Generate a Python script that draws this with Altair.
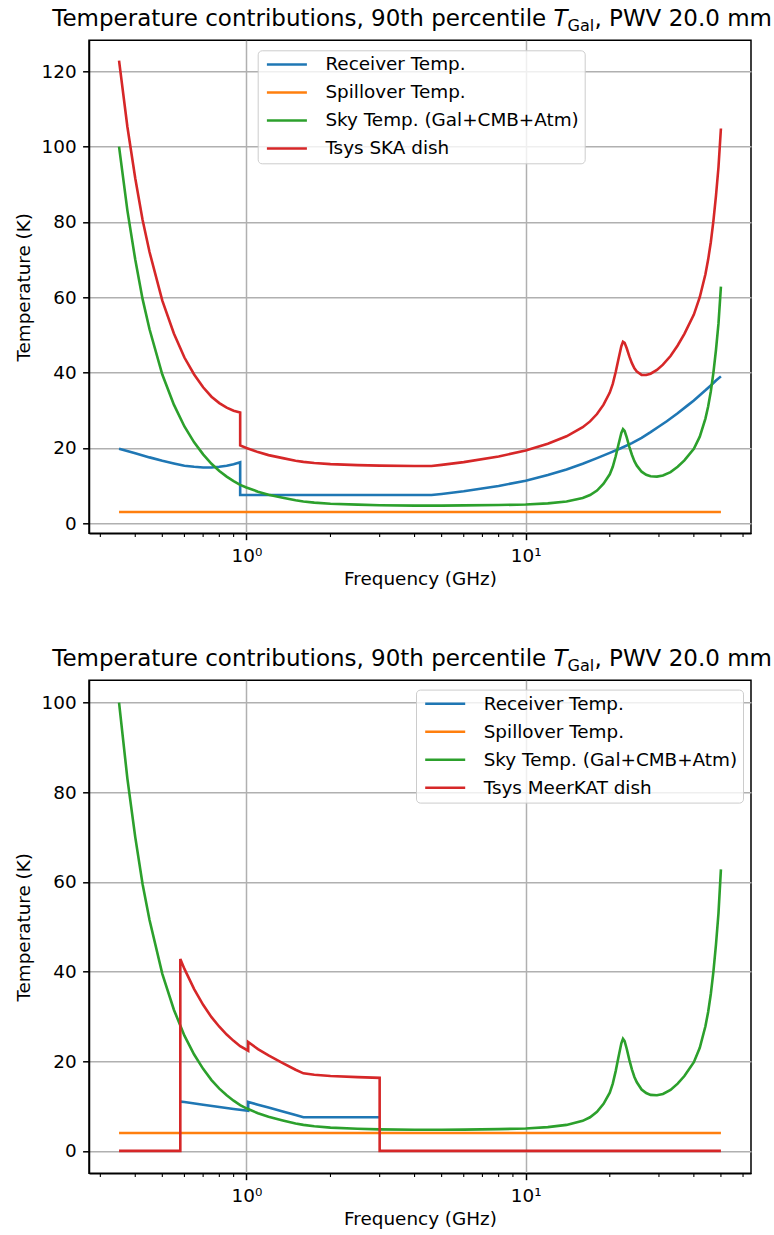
import altair as alt
import pandas as pd

# ---------------- data ----------------
F_SKY = [0.35, 0.375, 0.40, 0.425, 0.45, 0.5, 0.55, 0.6, 0.65, 0.7, 0.75, 0.8, 0.85, 0.9, 0.95,
         1.0, 1.1, 1.2, 1.35, 1.5, 1.6, 1.75, 2.0, 2.5, 3.0, 4.0, 5.0, 6.0, 8.0, 10.0, 12.0, 14.0,
         16.0, 17.0, 18.0, 19.0, 20.0, 20.5, 21.0, 21.5, 22.0, 22.3, 22.6, 23.0, 23.5, 24.0, 24.5,
         25.0, 26.0, 27.0, 28.0, 29.5, 31.0, 33.0, 35.0, 37.0, 40.0, 42.0, 44.0, 45.0, 46.0, 47.0,
         48.0, 49.0, 50.0]
T_SKY = [100.0, 83.0, 70.0, 59.5, 51.5, 39.5, 31.5, 25.7, 21.5, 18.3, 15.8, 13.9, 12.4, 11.2, 10.2,
         9.5, 8.4, 7.6, 6.8, 6.1, 5.8, 5.5, 5.2, 4.95, 4.8, 4.7, 4.7, 4.75, 4.85, 5.0, 5.3, 5.8,
         6.7, 7.5, 8.7, 10.5, 13.0, 15.0, 17.8, 21.0, 24.0, 25.0, 24.5, 22.8, 20.3, 18.2, 16.5,
         15.3, 13.7, 12.9, 12.5, 12.4, 12.7, 13.6, 15.0, 16.7, 19.8, 23.0, 27.8, 31.0, 35.0, 40.0,
         46.0, 53.0, 62.8]

# SKA dish
F_RX_SKA = [0.35, 0.4, 0.45, 0.5, 0.55, 0.6, 0.65, 0.7, 0.75, 0.8, 0.85, 0.9, 0.95, 0.95, 4.6,
            5.0, 6.0, 8.0, 10.0, 12.0, 14.0, 16.0, 18.0, 20.0, 22.0, 24.0, 26.0, 28.0, 30.0, 32.0,
            35.0, 38.0, 40.0, 42.0, 44.0, 46.0, 48.0, 50.0]
T_RX_SKA = [19.8, 18.6, 17.5, 16.6, 15.9, 15.3, 15.0, 14.8, 14.8, 15.0, 15.3, 15.7, 16.2, 7.5, 7.5,
            7.8, 8.5, 9.9, 11.3, 12.8, 14.3, 15.8, 17.3, 18.7, 20.0, 21.3, 22.7, 24.2, 25.7, 27.1,
            29.2, 31.3, 32.6, 34.0, 35.3, 36.6, 37.9, 39.0]
F_SYS_SKA = [0.35, 0.375, 0.40, 0.425, 0.45, 0.5, 0.55, 0.6, 0.65, 0.7, 0.75, 0.8, 0.85, 0.9, 0.95,
             0.95, 1.0, 1.1, 1.2, 1.35, 1.5, 1.6, 1.75, 2.0, 2.5, 3.0, 4.0, 4.6, 5.0, 6.0, 8.0,
             10.0, 12.0, 14.0, 16.0, 17.0, 18.0, 19.0, 20.0, 20.5, 21.0, 21.5, 22.0, 22.3, 22.6,
             23.0, 23.5, 24.0, 24.5, 25.0, 26.0, 27.0, 28.0, 29.5, 31.0, 33.0, 35.0, 37.0, 40.0,
             42.0, 44.0, 45.0, 46.0, 47.0, 48.0, 49.0, 50.0]
T_SYS_SKA = [122.8, 105.2, 91.6, 80.5, 72.0, 59.1, 50.4, 44.0, 39.5, 36.1, 33.6, 31.9, 30.7, 29.9,
             29.4, 20.7, 20.0, 18.9, 18.1, 17.3, 16.6, 16.3, 16.0, 15.7, 15.45, 15.3, 15.2, 15.2,
             15.5, 16.25, 17.75, 19.3, 21.1, 23.1, 25.5, 27.05, 29.0, 31.5, 34.7, 37.0, 40.15,
             43.7, 47.0, 48.2, 47.9, 46.45, 44.3, 42.5, 41.15, 40.3, 39.4, 39.35, 39.7, 40.7, 42.1,
             44.4, 47.2, 50.3, 55.4, 60.0, 66.1, 70.0, 74.6, 80.25, 86.9, 94.5, 104.8]
F_SPILL = [0.35, 50.0]
T_SPILL_SKA = [3.0, 3.0]

# MeerKAT dish
F_RX_MK = [0.58, 0.6, 0.7, 0.8, 0.9, 1.015, 1.015, 1.1, 1.2, 1.35, 1.5, 1.6, 2.0, 2.5, 3.0]
T_RX_MK = [11.0, 10.9, 10.3, 9.8, 9.35, 8.95, 10.9, 10.3, 9.7, 8.8, 8.0, 7.5, 7.5, 7.5, 7.5]
F_SYS_MK = [0.35, 0.58, 0.58, 0.6, 0.65, 0.7, 0.75, 0.8, 0.85, 0.9, 0.95, 1.015, 1.015, 1.1, 1.2,
            1.35, 1.5, 1.6, 1.75, 2.0, 2.5, 3.0, 3.0, 50.0]
T_SYS_MK = [0.0, 0.0, 42.8, 40.6, 36.1, 32.6, 29.85, 27.7, 25.95, 24.55, 23.35, 22.35, 24.3, 22.7,
            21.3, 19.6, 18.1, 17.3, 17.0, 16.7, 16.45, 16.3, 0.0, 0.0]
T_SPILL_MK = [4.0, 4.0]

NAMES_COMMON = ["Receiver Temp.", "Spillover Temp.", "Sky Temp. (Gal+CMB+Atm)"]
COLORS = ["#1f77b4", "#ff7f0e", "#2ca02c", "#d62728"]

X_MAJOR = [1, 10]
X_MINOR = [0.3, 0.4, 0.5, 0.6, 0.7, 0.8, 0.9, 2, 3, 4, 5, 6, 7, 8, 9, 20, 30, 40, 50, 60]
Y_TICKS_TOP = [0, 20, 40, 60, 80, 100, 120]
Y_TICKS_BOT = [0, 20, 40, 60, 80, 100]

TITLE_A = "Temperature contributions, 90th percentile"
TITLE_T = "T"
TITLE_SUB = "Gal"
TITLE_B = ", PWV 20.0 mm"

# ---------------- styling ----------------
W, H = 662, 493
FONT = "DejaVu Sans"
FS = 18.4
TFS = 23.0
LW = 2.6
X_DOMAIN = [0.2732, 64.07]

# title pieces (plot coordinates)
T_X = 464.5            # left edge of the italic T
T_SPACE = 0.318 * TFS  # width of a space
T_W = 0.611 * TFS      # italic T advance
SUB_W = 1.669 * TFS * 0.7
T_BASE = -14


def frame(series):
    rows = []
    for name, fs, ts in series:
        for i, (f, t) in enumerate(zip(fs, ts)):
            rows.append({"f": f, "T": t, "s": name, "i": i})
    return pd.DataFrame(rows)


def panel(series, names, ydom, yticks, lx, ly):
    df = frame(series)
    xs = alt.Scale(type="log", domain=X_DOMAIN, nice=False)
    xax = alt.Axis(values=X_MAJOR, labelExpr="datum.value == 1 ? '10⁰' : '10¹'",
                   title="Frequency (GHz)", tickSize=6.4, labelPadding=6.4,
                   titleY=45, titleBaseline="middle", grid=True)
    x = alt.X("f:Q", scale=xs, axis=xax)
    y = alt.Y("T:Q", scale=alt.Scale(domain=ydom, nice=False, zero=False),
              axis=alt.Axis(values=yticks, title="Temperature (K)", tickSize=6.4,
                            labelPadding=6.4, titleX=-66, titleY=H / 2,
                            titleAngle=-90, titleBaseline="middle", grid=True))
    color = alt.Color("s:N", scale=alt.Scale(domain=names, range=COLORS),
                      legend=alt.Legend(title=None, orient="none", legendX=lx, legendY=ly,
                                        symbolType="M-1,0L7,0", symbolSize=100,
                                        symbolStrokeWidth=LW, labelFontSize=FS,
                                        labelFont=FONT, labelColor="black", rowPadding=9,
                                        padding=5, labelOffset=44.3,
                                        fillColor="rgba(255,255,255,0.8)",
                                        strokeColor="#cccccc", cornerRadius=4,
                                        labelLimit=0))
    layers = []
    for n in names:
        layers.append(
            alt.Chart(df).transform_filter(alt.datum.s == n)
            .mark_line(strokeWidth=LW, clip=True)
            .encode(x=x, y=y, color=color, order="i:Q")
        )
    minor = alt.Chart(pd.DataFrame({"f": X_MINOR})).mark_rule(
        color="black", strokeWidth=1.1).encode(
        x=alt.X("f:Q", scale=xs, axis=xax), y=alt.value(H), y2=alt.value(H + 3.7))
    one = pd.DataFrame({"a": [0]})
    t1 = alt.Chart(one).mark_text(align="right", baseline="alphabetic", font=FONT,
                                  fontSize=TFS, color="black").encode(
        x=alt.value(T_X - T_SPACE), y=alt.value(T_BASE), text=alt.value(TITLE_A))
    t2 = alt.Chart(one).mark_text(align="left", baseline="alphabetic", font=FONT,
                                  fontSize=TFS, fontStyle="italic", color="black").encode(
        x=alt.value(T_X), y=alt.value(T_BASE), text=alt.value(TITLE_T))
    t3 = alt.Chart(one).mark_text(align="left", baseline="alphabetic", font=FONT,
                                  fontSize=TFS * 0.7, color="black").encode(
        x=alt.value(T_X + T_W), y=alt.value(T_BASE + 5), text=alt.value(TITLE_SUB))
    t4 = alt.Chart(one).mark_text(align="left", baseline="alphabetic", font=FONT,
                                  fontSize=TFS, color="black").encode(
        x=alt.value(T_X + T_W + SUB_W), y=alt.value(T_BASE), text=alt.value(TITLE_B))
    return alt.layer(*layers, minor, t1, t2, t3, t4).properties(width=W, height=H)


top = panel([
    ("Receiver Temp.", F_RX_SKA, T_RX_SKA),
    ("Spillover Temp.", F_SPILL, T_SPILL_SKA),
    ("Sky Temp. (Gal+CMB+Atm)", F_SKY, T_SKY),
    ("Tsys SKA dish", F_SYS_SKA, T_SYS_SKA),
], NAMES_COMMON + ["Tsys SKA dish"], [-2.65, 128.2], Y_TICKS_TOP, 168.7, 10)

bottom = panel([
    ("Receiver Temp.", F_RX_MK, T_RX_MK),
    ("Spillover Temp.", F_SPILL, T_SPILL_MK),
    ("Sky Temp. (Gal+CMB+Atm)", F_SKY, T_SKY),
    ("Tsys MeerKAT dish", F_SYS_MK, T_SYS_MK),
], NAMES_COMMON + ["Tsys MeerKAT dish"], [-5.0, 105.0], Y_TICKS_BOT, 327, 9.3)

chart = alt.vconcat(top, bottom, spacing=58).resolve_scale(color="independent").resolve_legend(
    color="independent").properties(
    padding={"left": 13, "top": 7.3, "right": 0, "bottom": 0}, background="white"
).configure_axis(
    labelFont=FONT, titleFont=FONT, labelFontSize=FS, titleFontSize=FS,
    titleFontWeight="normal", labelColor="black", titleColor="black",
    domainColor="black", domainWidth=1.5, tickColor="black", tickWidth=1.5,
    gridColor="#b0b0b0", gridWidth=1.5, gridOpacity=1
).configure_view(stroke="black", strokeWidth=1.5)

chart.save("out.html", embed_options={"renderer": "svg", "actions": False})
